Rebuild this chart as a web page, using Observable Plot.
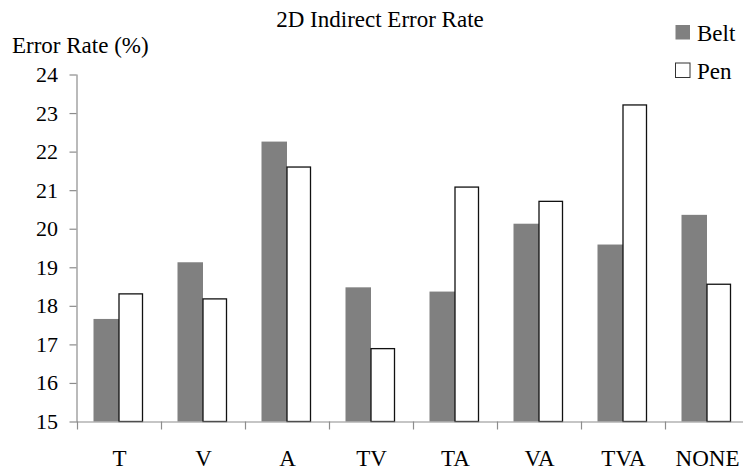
<!DOCTYPE html>
<html>
<head>
<meta charset="utf-8">
<script src="https://cdn.jsdelivr.net/npm/d3@7"></script>
<script src="https://cdn.jsdelivr.net/npm/@observablehq/plot@0.6"></script>
<style>
  body { margin: 0; background: #fff; }
  #chart { position: relative; width: 743px; height: 473px; }
  #chart svg { display: block; }
</style>
</head>
<body>
<div id="chart"></div>
<script>
// ---- data ----
const categories = ["T", "V", "A", "TV", "TA", "VA", "TVA", "NONE"];
const seriesNames = ["Belt", "Pen"];
const beltValues = [17.66, 19.13, 22.26, 18.48, 18.37, 20.13, 19.59, 20.36];
const penValues  = [18.31, 18.18, 21.60, 16.89, 21.08, 20.71, 23.21, 18.56];
const yTicks = [15, 16, 17, 18, 19, 20, 21, 22, 23, 24];
const titleText = "2D Indirect Error Rate";
const yLabelText = "Error Rate (%)";

const yMin = yTicks[0], yMax = yTicks[yTicks.length - 1];
const belt = categories.map((c, i) => ({cat: c, series: seriesNames[0], value: beltValues[i]}));
const pen  = categories.map((c, i) => ({cat: c, series: seriesNames[1], value: penValues[i]}));

const FONT = "'Liberation Serif', 'Times New Roman', serif";
const AXIS = "#8c8c8c";
const BAND = 84;

const chart = Plot.plot({
  width: 743,
  height: 473,
  marginTop: 74.5,
  marginBottom: 51.5,
  marginLeft: 76.5,
  marginRight: 0,
  style: {fontFamily: FONT, fontSize: "22px", color: "black", background: "white"},
  x: {type: "band", domain: categories, range: [76.5, 76.5 + BAND * categories.length], padding: 0, axis: null, label: null},
  y: {domain: [yMin, yMax], axis: null, label: null},
  marks: [
    Plot.barY(belt, {x: "cat", y1: () => yMin, y2: "value", fill: "#808080",
      insetLeft: 16.5, insetRight: BAND / 2}),
    Plot.barY(pen, {x: "cat", y1: () => yMin, y2: "value", fill: "white",
      stroke: "#111", strokeWidth: 1.3, insetLeft: BAND / 2, insetRight: 18.5}),
    // axis lines
    Plot.frame({anchor: "left", stroke: AXIS, strokeWidth: 1.2}),
    Plot.ruleY([yMin], {stroke: AXIS, strokeWidth: 1.2}),
    // y ticks + labels
    Plot.axisY({ticks: yTicks, tickSize: 7, tickFormat: () => "", label: null, stroke: AXIS, strokeWidth: 1.2}),
    Plot.axisY({ticks: yTicks, tickSize: 0, tickPadding: 19, label: null, fontSize: 22, fill: "black"}),
    // x boundary ticks + labels
    Plot.axisX({ticks: categories, tickSize: 8, tickFormat: () => "", label: null, dx: -BAND / 2, stroke: AXIS, strokeWidth: 1.2}),
    Plot.axisX({ticks: categories, tickSize: 0, tickPadding: 28, label: null, fontSize: 23, fill: "black"})
  ]
});

document.getElementById("chart").appendChild(chart);

// title, axis label and legend
const svg = d3.select(chart);
const g = svg.append("g").attr("font-family", FONT).attr("fill", "black")
  .attr("text-anchor", "start").attr("font-size", 23);
g.append("text").attr("x", 380).attr("y", 27).attr("text-anchor", "middle").text(titleText);
g.append("text").attr("x", 12).attr("y", 53).text(yLabelText);

const legendFills = ["#808080", "white"];
const legendStrokes = ["none", "#333"];
seriesNames.forEach((name, i) => {
  const y = 25 + i * 38;
  g.append("rect").attr("x", 675.5).attr("y", y).attr("width", 14.5).attr("height", 14.5)
    .attr("fill", legendFills[i]).attr("stroke", legendStrokes[i]).attr("stroke-width", 1);
  g.append("text").attr("x", 697).attr("y", y + 16).text(name);
});
</script>
</body>
</html>
